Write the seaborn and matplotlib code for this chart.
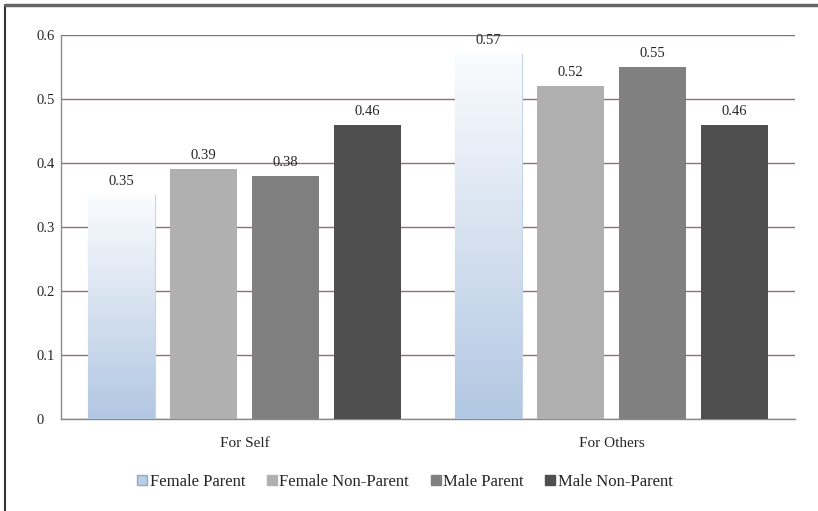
import numpy as np
import pandas as pd
import matplotlib
matplotlib.use("Agg")
import matplotlib.pyplot as plt
from matplotlib.colors import LinearSegmentedColormap
from matplotlib.lines import Line2D
import seaborn as sns

categories = ["For Self", "For Others"]
groups = ["Female Parent", "Female Non-Parent", "Male Parent", "Male Non-Parent"]
for_self = [0.35, 0.39, 0.38, 0.46]
for_others = [0.57, 0.52, 0.55, 0.46]
y_ticks = [0, 0.1, 0.2, 0.3, 0.4, 0.5, 0.6]

colors = ["#B9CDE5", "#B0B0B0", "#808080", "#4F4F4F"]

df = pd.DataFrame({
    "category": [categories[0]] * 4 + [categories[1]] * 4,
    "group": groups * 2,
    "value": for_self + for_others,
})

sns.set_style("white")
plt.rcParams["font.family"] = ["Liberation Serif", "DejaVu Serif"]

fig = plt.figure(figsize=(8.18, 5.11), dpi=100)
ax = fig.add_axes([61 / 818, 1 - 419 / 511, 734 / 818, 384 / 511])

sns.barplot(data=df, x="category", y="value", hue="group", hue_order=groups,
            palette=colors, width=0.894, gap=0.19, ax=ax, legend=False,
            edgecolor="none", zorder=3)

# gradient fill for the first series (white top -> light blue bottom)
grad = LinearSegmentedColormap.from_list("fp", ["#FAFCFE", "#B2C7E2"])
n = len(categories)
for bar in ax.patches[:n]:
    x0, y0 = bar.get_x(), bar.get_y()
    w, h = bar.get_width(), bar.get_height()
    bar.set_facecolor("none")
    bar.set_edgecolor("#C5D3E6")
    bar.set_linewidth(0.8)
    img = ax.imshow(np.linspace(0, 1, 256).reshape(-1, 1), cmap=grad,
                    aspect="auto", extent=[x0, x0 + w, y0, y0 + h],
                    origin="upper", zorder=3)
    img.set_clip_path(bar)

ax.set_xlim(-0.5, 1.5)
ax.set_ylim(0, 0.6)
ax.set_yticks(y_ticks)
ax.set_yticklabels([f"{t:g}" for t in y_ticks], fontsize=10.5)
ax.tick_params(axis="x", labelsize=11, length=0, pad=13)
ax.tick_params(axis="y", length=0, pad=17.3)
for t in ax.get_yticklabels():
    t.set_horizontalalignment("left")
ax.set_xlabel("")
ax.set_ylabel("")

ax.grid(axis="y", color="#8c716b", linewidth=1.0, zorder=0)
for s in ["top", "right"]:
    ax.spines[s].set_visible(False)
ax.spines["left"].set_color("#8a8a8a")
ax.spines["bottom"].set_color("#8a8a8a")
ax.spines["left"].set_linewidth(1.0)
ax.spines["bottom"].set_linewidth(1.0)
ax.set_facecolor("none")

# value labels
for cont in ax.containers:
    ax.bar_label(cont, fmt="%.2f", padding=5, fontsize=10.5)

handles = [Line2D([], [], marker="s", linestyle="none", markersize=7,
                  markerfacecolor=c, markeredgecolor="#8FA9CF" if i == 0 else c)
           for i, c in enumerate(colors)]
fig.legend(handles, groups, loc="center", bbox_to_anchor=(0.494, 1 - 482 / 511),
           ncol=4, frameon=False, fontsize=12, handletextpad=0.05,
           columnspacing=1.2, handlelength=0.8)

# outer border (left and top)
fig.add_artist(Line2D([4.5 / 818, 4.5 / 818], [0, 1 - 5 / 511], color="#333333",
                      linewidth=1.5, transform=fig.transFigure))
fig.add_artist(Line2D([4.5 / 818, 1], [1 - 5 / 511, 1 - 5 / 511], color="#666666",
                      linewidth=2.5, transform=fig.transFigure))

fig.savefig("out.png", dpi=100)
